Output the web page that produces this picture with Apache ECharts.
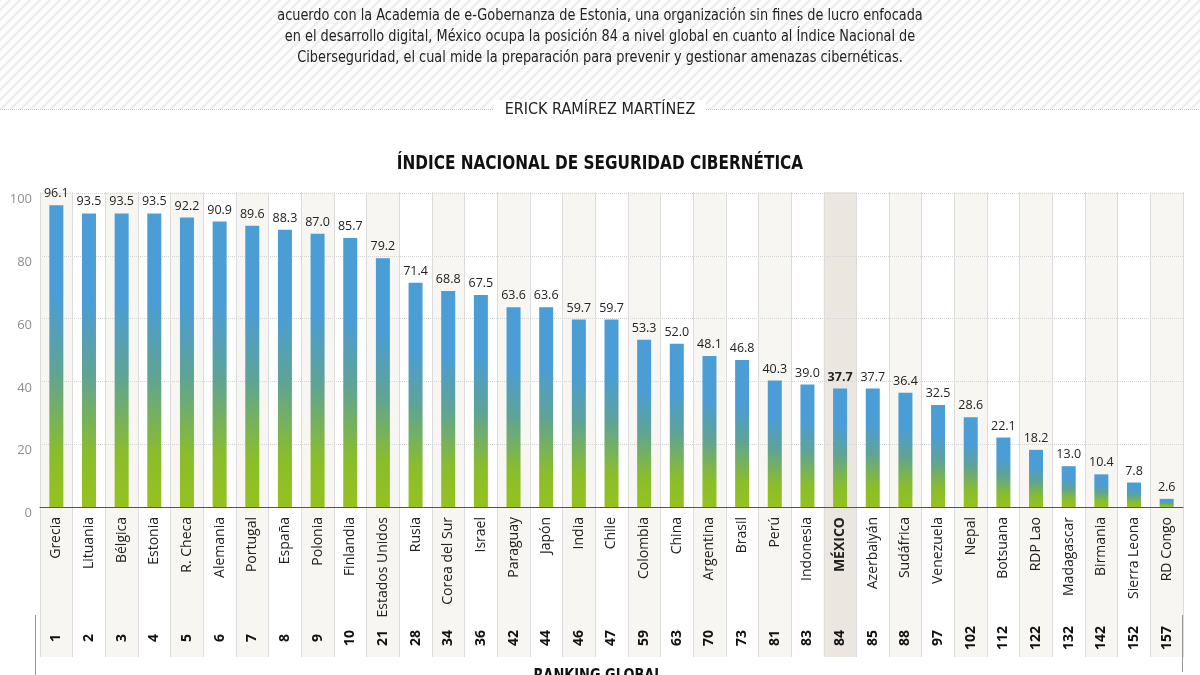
<!DOCTYPE html>
<html><head><meta charset="utf-8">
<script src="https://cdn.jsdelivr.net/npm/echarts@6/dist/echarts.min.js"></script>
<style>html,body{margin:0;padding:0;background:#fff}#c{width:1200px;height:675px}</style>
</head><body><div id="c"></div>
<script>
const countries = ['Grecia','Lituania','Bélgica','Estonia','R. Checa','Alemania','Portugal','España','Polonia','Finlandia','Estados Unidos','Rusia','Corea del Sur','Israel','Paraguay','Japón','India','Chile','Colombia','China','Argentina','Brasil','Perú','Indonesia','MÉXICO','Azerbaiyán','Sudáfrica','Venezuela','Nepal','Botsuana','RDP Lao','Madagascar','Birmania','Sierra Leona','RD Congo'];
const scores = [96.1,93.5,93.5,93.5,92.2,90.9,89.6,88.3,87.0,85.7,79.2,71.4,68.8,67.5,63.6,63.6,59.7,59.7,53.3,52.0,48.1,46.8,40.3,39.0,37.7,37.7,36.4,32.5,28.6,22.1,18.2,13.0,10.4,7.8,2.6];
const ranks = ['1','2','3','4','5','6','7','8','9','10','21','28','34','36','42','44','46','47','59','63','70','73','81','83','84','85','88','97','102','112','122','132','142','152','157'];
const highlight = 'MÉXICO';
const introLines = [
  'acuerdo con la Academia de e-Gobernanza de Estonia, una organización sin fines de lucro enfocada',
  'en el desarrollo digital, México ocupa la posición 84 a nivel global en cuanto al Índice Nacional de',
  'Ciberseguridad, el cual mide la preparación para prevenir y gestionar amenazas cibernéticas.'
];
const byline = 'ERICK RAMÍREZ MARTÍNEZ';
const chartTitle = 'ÍNDICE NACIONAL DE SEGURIDAD CIBERNÉTICA';
const rankTitle = 'RANKING GLOBAL';

const NARROW = '"Liberation Sans Narrow","DejaVu Sans Condensed",sans-serif';
const SANS = '"Open Sans","Noto Sans",sans-serif';

// hatch pattern
const pc = document.createElement('canvas');
pc.width = 10; pc.height = 10;
const g = pc.getContext('2d');
g.fillStyle = '#fcfcfc'; g.fillRect(0,0,10,10);
g.strokeStyle = '#ececec'; g.lineWidth = 2;
g.beginPath();
g.moveTo(0,10); g.lineTo(10,0);
g.moveTo(-1,1); g.lineTo(1,-1);
g.moveTo(9,11); g.lineTo(11,9);
g.stroke();

const chart = echarts.init(document.getElementById('c'));
const barGrad = new echarts.graphic.LinearGradient(0,0,0,1,[
  {offset:0,color:'#4b9dd6'},{offset:0.3,color:'#4b9dd6'},
  {offset:0.55,color:'#5fa396'},{offset:0.82,color:'#8abd2c'},{offset:1,color:'#95c21e'}]);

const graphics = [
  {type:'rect', shape:{x:0,y:0,width:1200,height:109}, style:{fill:{image:pc,repeat:'repeat'}}, silent:true, z:-10},
  {type:'line', shape:{x1:0,y1:109.5,x2:1200,y2:109.5}, style:{stroke:'#c4c4c4',lineWidth:1,lineDash:[1,1]}, z:-9},
  {type:'rect', shape:{x:494,y:100,width:212,height:20}, style:{fill:'#fff'}, z:-8},
  {type:'text', x:600, y:110, style:{text:byline, font:'16px '+NARROW, fill:'#222', align:'center', verticalAlign:'middle'}},
  {type:'text', x:600, y:164, scaleX:0.85, style:{text:chartTitle, font:'bold 20px '+NARROW, fill:'#111', align:'center', verticalAlign:'middle'}},
  {type:'line', shape:{x1:35.5,y1:615,x2:35.5,y2:675}, style:{stroke:'#999',lineWidth:1}},
  {type:'line', shape:{x1:1182.5,y1:615,x2:1182.5,y2:672}, style:{stroke:'#999',lineWidth:1}},
  {type:'text', x:598, y:668, scaleX:0.9, style:{text:rankTitle, font:'bold 16px '+NARROW, fill:'#111', align:'center', verticalAlign:'top'}}
];
introLines.forEach((t,i)=>graphics.push({type:'text', x:600, y:16+i*21, scaleX:0.895, style:{text:t, font:'16px '+NARROW, fill:'#222', align:'center', verticalAlign:'middle'}}));

chart.setOption({
  backgroundColor:'#fff',
  animation:false,
  graphic:graphics,
  grid:[
    {left:40,right:17,top:193,bottom:168},
    {left:40,right:17,top:192,bottom:18}
  ],
  xAxis:[
    {type:'category', gridIndex:0, data:countries.map(c=>c===highlight?{value:c,textStyle:{fontWeight:'bold'}}:c),
     axisLine:{lineStyle:{color:'#555',width:1}}, axisTick:{show:false},
     axisLabel:{interval:0, rotate:90, margin:10, fontSize:14, color:'#222', fontFamily:SANS}},
    {type:'category', gridIndex:1, data:countries, axisLine:{show:false}, axisTick:{show:false}, axisLabel:{show:false},
     splitLine:{show:true, interval:0, lineStyle:{color:'#dcdcdc',width:1}}},
    {type:'category', gridIndex:0, position:'bottom', data:ranks, axisLine:{show:false}, axisTick:{show:false},
     axisLabel:{interval:0, rotate:90, margin:131, align:'center', fontSize:14, fontWeight:'bold', color:'#111', fontFamily:SANS}}
  ],
  yAxis:[
    {type:'value', gridIndex:0, min:0, max:100, interval:20,
     axisLine:{show:false}, axisTick:{show:false},
     axisLabel:{margin:8, fontSize:13, color:'#8f8f8f', fontFamily:SANS, verticalAlign:'top'},
     splitLine:{lineStyle:{color:'#d4d4d4', type:'dotted'}}},
    {type:'value', gridIndex:1, min:0, max:1, show:false, splitLine:{show:false}}
  ],
  series:[
    {type:'bar', xAxisIndex:1, yAxisIndex:1, barWidth:'100%', z:-1, silent:true,
     data:countries.map((c,i)=>({value:1, itemStyle:{color: c===highlight ? '#ebe6e0' : (i%2===0 ? '#f7f6f2' : '#ffffff')}}))},
    {type:'bar', xAxisIndex:0, yAxisIndex:0, barWidth:14,
     itemStyle:{color:barGrad},
     label:{show:true, position:'top', distance:5, fontSize:12.5, color:'#222', fontFamily:SANS,
       formatter:p=>Number(p.value).toFixed(1)},
     data:scores.map((v,i)=>countries[i]===highlight?{value:v,label:{fontWeight:'bold'}}:v)}
  ]
});
</script></body></html>
